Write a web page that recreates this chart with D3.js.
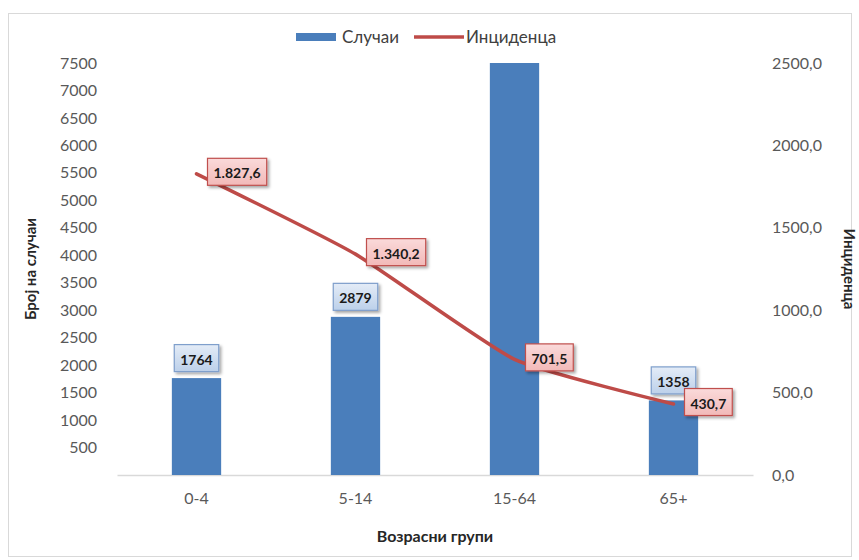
<!DOCTYPE html>
<html>
<head>
<meta charset="utf-8">
<script src="https://cdn.jsdelivr.net/npm/d3@7"></script>
<style>
  body { margin: 0; background: #fff; }
  svg { font-family: Lato, "Open Sans", sans-serif; }
</style>
</head>
<body>
<div id="container"></div>
<script>
// Data
const groups = ["0-4", "5-14", "15-64", "65+"];
const cases = [1764, 2879, 7500, 1358];
const incidence = [1827.6, 1340.2, 701.5, 430.7];
const leftTicks = [500, 1000, 1500, 2000, 2500, 3000, 3500, 4000, 4500, 5000, 5500, 6000, 6500, 7000, 7500];
const rightTicks = [0, 500, 1000, 1500, 2000, 2500];

const W = 859, H = 560;
const plot = { left: 117, right: 753, top: 63, bottom: 475 };

const svg = d3.select("#container")
    .append("svg")
    .attr("width", W)
    .attr("height", H);

// Outer frame
svg.append("rect")
    .attr("x", 8.5).attr("y", 13.5)
    .attr("width", 843).attr("height", 543)
    .attr("fill", "#fff")
    .attr("stroke", "#d9d9d9");

// Scales
const x = d3.scaleBand().domain(groups).range([plot.left, plot.right]);
const yLeft = d3.scaleLinear().domain([0, 7500]).range([plot.bottom, plot.top]);
const yRight = d3.scaleLinear().domain([0, 2500]).range([plot.bottom, plot.top]);
const barW = x.bandwidth() * 0.31;
const cx = d => x(d) + x.bandwidth() / 2;

// number formats: 1.827,6 for labels, 2500,0 for axis
const fmtLabel = v => d3.format(",.1f")(v).replace(/,/g, "#").replace(".", ",").replace(/#/g, ".");
const fmtAxis = v => d3.format(".1f")(v).replace(".", ",");

// Left axis
const leftAxis = svg.append("g")
    .attr("transform", `translate(${plot.left},0)`)
    .call(d3.axisLeft(yLeft).tickValues(leftTicks).tickFormat(d3.format("d")).tickSize(0).tickPadding(20));
leftAxis.select(".domain").remove();
leftAxis.selectAll("text").attr("font-size", 16).attr("fill", "#595959").attr("font-family", "Lato");

// Right axis
const rightAxis = svg.append("g")
    .attr("transform", `translate(${plot.right},0)`)
    .call(d3.axisRight(yRight).tickValues(rightTicks).tickFormat(fmtAxis).tickSize(0).tickPadding(19));
rightAxis.select(".domain").remove();
rightAxis.selectAll("text").attr("font-size", 16).attr("fill", "#595959").attr("font-family", "Lato");

// Bottom axis
const bottomAxis = svg.append("g")
    .attr("transform", `translate(0,${plot.bottom})`)
    .call(d3.axisBottom(x).tickSize(0).tickPadding(18));
bottomAxis.select(".domain").attr("stroke", "#d9d9d9").attr("stroke-width", 1.5);
bottomAxis.selectAll("text").attr("font-size", 16).attr("fill", "#595959").attr("font-family", "Lato");

// Bars
svg.selectAll("rect.bar")
    .data(groups)
    .enter()
    .append("rect")
    .attr("class", "bar")
    .attr("x", d => cx(d) - barW / 2)
    .attr("y", (d, i) => yLeft(Math.min(cases[i], 7500)))
    .attr("width", barW)
    .attr("height", (d, i) => plot.bottom - yLeft(Math.min(cases[i], 7500)))
    .attr("fill", "#4a7ebb");

// Incidence line (smoothed)
const line = d3.line()
    .x((d, i) => cx(groups[i]))
    .y(d => yRight(d))
    .curve(d3.curveCardinal.tension(0.5));

svg.append("path")
    .datum(incidence)
    .attr("d", line)
    .attr("fill", "none")
    .attr("stroke", "#be4b48")
    .attr("stroke-width", 3.5)
    .attr("stroke-linecap", "round");

// Shadow filter and fills for label boxes
const defs = svg.append("defs");
const f = defs.append("filter").attr("id", "shadow").attr("x", "-20%").attr("y", "-20%").attr("width", "150%").attr("height", "160%");
f.append("feDropShadow").attr("dx", 2).attr("dy", 2).attr("stdDeviation", 1.5).attr("flood-color", "#000").attr("flood-opacity", 0.35);

function grad(id, c1, c2) {
    const g = defs.append("linearGradient").attr("id", id).attr("x1", 0).attr("y1", 0).attr("x2", 0).attr("y2", 1);
    g.append("stop").attr("offset", "0%").attr("stop-color", c1);
    g.append("stop").attr("offset", "100%").attr("stop-color", c2);
}
grad("blueFill", "#e4ecf7", "#bcd0ea");
grad("redFill", "#fadada", "#f2b9b8");

function labelBox(px, py, text, fill, stroke, anchor) {
    const g = svg.append("g");
    const t = g.append("text")
        .attr("font-size", 14)
        .attr("font-weight", "bold")
        .attr("fill", "#1a1a1a")
        .attr("font-family", "Lato")
        .attr("dominant-baseline", "central")
        .text(text);
    const bb = t.node().getBBox();
    const w = bb.width + 12, h = 27;
    const bx = anchor === "left" ? px : px - w / 2;
    const by = py - h / 2;
    t.attr("x", bx + 6).attr("y", py + 1);
    g.insert("rect", "text")
        .attr("x", bx).attr("y", by)
        .attr("width", w).attr("height", h)
        .attr("fill", fill)
        .attr("stroke", stroke)
        .attr("stroke-width", 1.2)
        .attr("filter", "url(#shadow)");
}

// Bar labels (the clipped 15-64 bar has none)
groups.forEach((g, i) => {
    if (cases[i] >= 7500) return;
    labelBox(cx(g), yLeft(cases[i]) - 20, String(cases[i]), "url(#blueFill)", "#7f9fcc", "center");
});

// Line labels to the right of points
incidence.forEach((v, i) => {
    labelBox(cx(groups[i]) + 11, yRight(v) - 2, fmtLabel(v), "url(#redFill)", "#c0504d", "left");
});

// Axis titles
svg.append("text")
    .attr("transform", `translate(36,${(plot.top + plot.bottom) / 2}) rotate(-90)`)
    .attr("text-anchor", "middle")
    .attr("font-size", 15)
    .attr("font-weight", "bold")
    .attr("fill", "#262626")
    .text("Број на случаи");

svg.append("text")
    .attr("transform", `translate(844,${(plot.top + plot.bottom) / 2}) rotate(90)`)
    .attr("text-anchor", "middle")
    .attr("font-size", 15)
    .attr("font-weight", "bold")
    .attr("fill", "#262626")
    .text("Инциденца");

svg.append("text")
    .attr("x", (plot.left + plot.right) / 2)
    .attr("y", 542)
    .attr("text-anchor", "middle")
    .attr("font-size", 16)
    .attr("font-weight", "bold")
    .attr("fill", "#262626")
    .text("Возрасни групи");

// Legend
const legend = svg.append("g");
legend.append("rect").attr("x", 296).attr("y", 33).attr("width", 40).attr("height", 8).attr("fill", "#4a7ebb");
legend.append("text").attr("x", 342).attr("y", 43).attr("font-size", 17).attr("fill", "#404040").text("Случаи");
legend.append("line").attr("x1", 414).attr("x2", 464).attr("y1", 37).attr("y2", 37)
    .attr("stroke", "#be4b48").attr("stroke-width", 3.5);
legend.append("text").attr("x", 466).attr("y", 43).attr("font-size", 17).attr("fill", "#404040").text("Инциденца");
</script>
</body>
</html>
